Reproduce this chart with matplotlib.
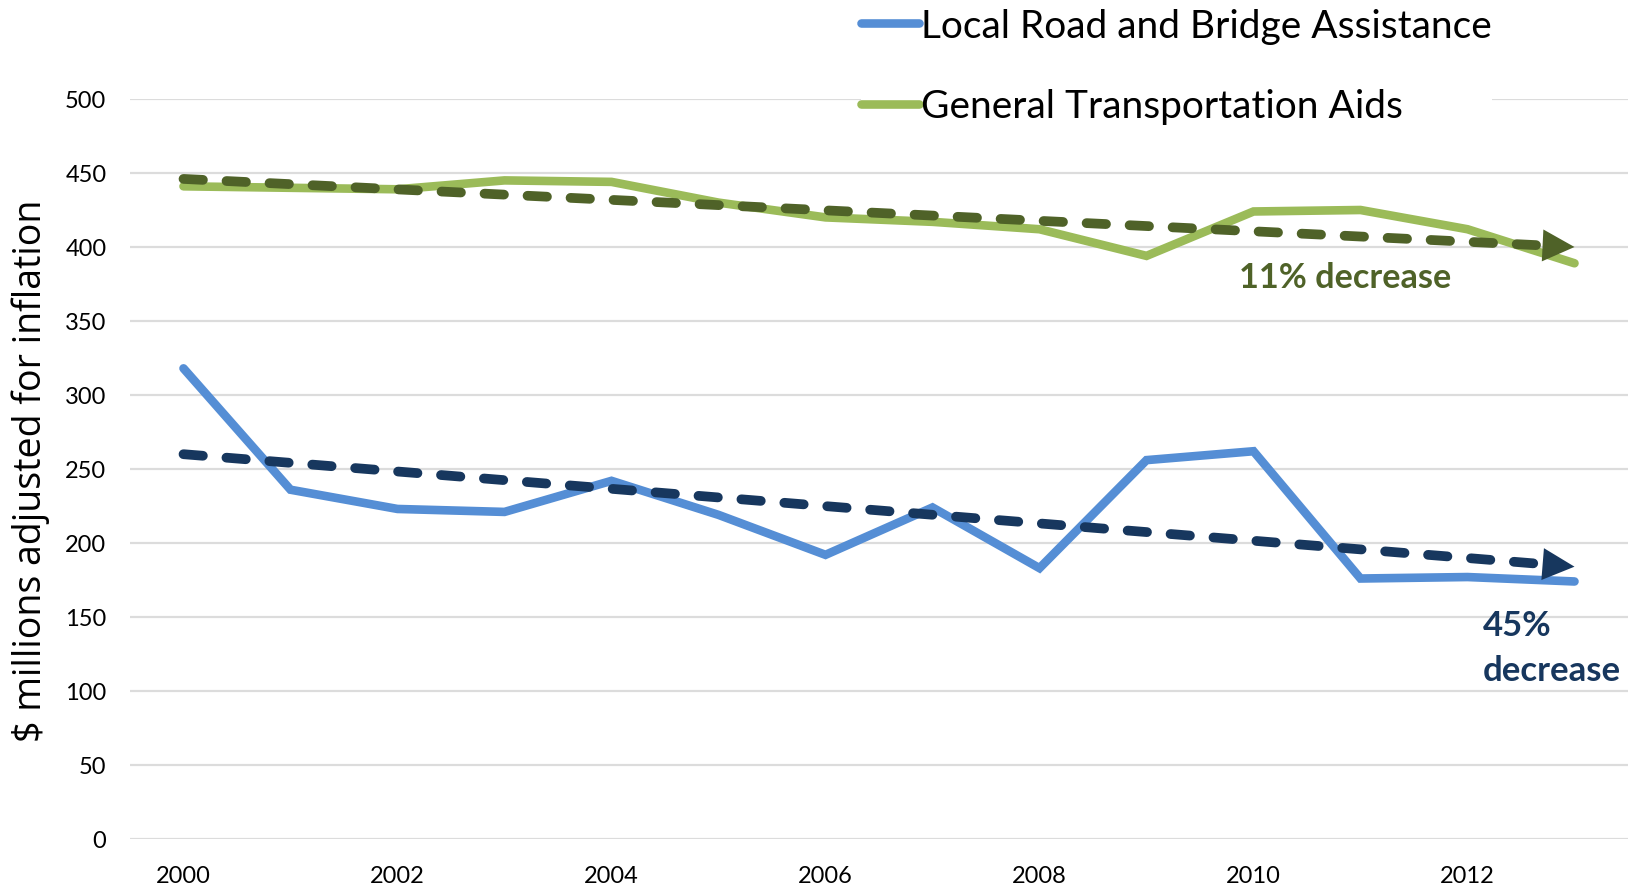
import matplotlib; matplotlib.use("Agg")
import matplotlib.pyplot as plt

YEARS = list(range(2000, 2014))
LOCAL_ROAD = [318, 236, 223, 221, 242, 219, 192, 224, 183, 256, 262, 176, 177, 174]
GEN_TRANS = [441, 440, 439, 445, 444, 430, 420, 417, 412, 394, 424, 425, 412, 389]
# trend line endpoints (2000 -> 2013)
TREND_LOCAL = [260, 184]
TREND_GEN = [446, 400]
XTICKS = [2000, 2002, 2004, 2006, 2008, 2010, 2012]

BLUE, BLUE_D = "#558ED5", "#17375E"
GREEN, GREEN_D = "#9BBB59", "#4F6228"
FONT = ["Lato", "DejaVu Sans"]

plt.rcParams["lines.scale_dashes"] = False
fig = plt.figure(figsize=(16.34, 8.87), dpi=100)
ax = fig.add_axes([130/1634, 1-840/887, 1498/1634, 740/887])

ax.plot(YEARS, LOCAL_ROAD, color=BLUE, lw=6.2, solid_capstyle="round", solid_joinstyle="miter",
        label="Local Road and Bridge Assistance", zorder=3)
ax.plot(YEARS, GEN_TRANS, color=GREEN, lw=6.2, solid_capstyle="round", solid_joinstyle="miter",
        label="General Transportation Aids", zorder=3)

def trend(vals, color):
    x0, x1 = YEARS[0], YEARS[-1]
    xb = x1 - 0.27
    yb = vals[0] + (vals[1]-vals[0]) * (xb-x0)/(x1-x0)
    ax.plot([x0, xb], [vals[0], yb], color=color, lw=7, ls=(0, (14, 17)),
            dash_capstyle="round", zorder=4)
    ax.annotate("", xy=(x1, vals[1]), xytext=(xb, yb),
                arrowprops=dict(arrowstyle="-|>,head_length=0.46,head_width=0.23",
                                mutation_scale=50, color=color, lw=0, shrinkA=0, shrinkB=0),
                zorder=5)

trend(TREND_GEN, GREEN_D)
trend(TREND_LOCAL, BLUE_D)

ax.set_xlim(1999.5, 2013.5); ax.set_ylim(0, 500)
ax.set_yticks(range(0, 501, 50))
ax.set_xticks(XTICKS)
ax.grid(axis="y", color="#DCDCDC", lw=1.6); ax.set_axisbelow(True)
for s in ax.spines.values(): s.set_visible(False)
ax.tick_params(length=0, labelsize=17)
ax.tick_params(axis="y", pad=17)
ax.tick_params(axis="x", pad=19)
for t in ax.get_xticklabels() + ax.get_yticklabels(): t.set_family(FONT)

fig.text(31/1634, 1-471/887, "$ millions adjusted for inflation", rotation=90,
         ha="center", va="center", fontsize=27, family=["Open Sans", "DejaVu Sans"])

ax.text(2009.86, 380, "11% decrease", fontsize=24.7, fontweight="bold",
        color=GREEN_D, family=FONT, va="center", ha="left")
ax.text(2012.14, 129.5, "45%\ndecrease", fontsize=25, fontweight="bold", color=BLUE_D, family=FONT,
        va="center", ha="left", linespacing=1.48)

leg = fig.legend(loc="upper left", bbox_to_anchor=(861/1634, 1 - 9/887), frameon=True,
                 prop={"family": FONT, "size": 28}, handlelength=1.49, handletextpad=0.05,
                 labelspacing=1.14, borderaxespad=0, borderpad=0)
leg.get_frame().set_edgecolor("none"); leg.get_frame().set_facecolor("white"); leg.get_frame().set_alpha(1)

fig.savefig("out.png", dpi=100)
